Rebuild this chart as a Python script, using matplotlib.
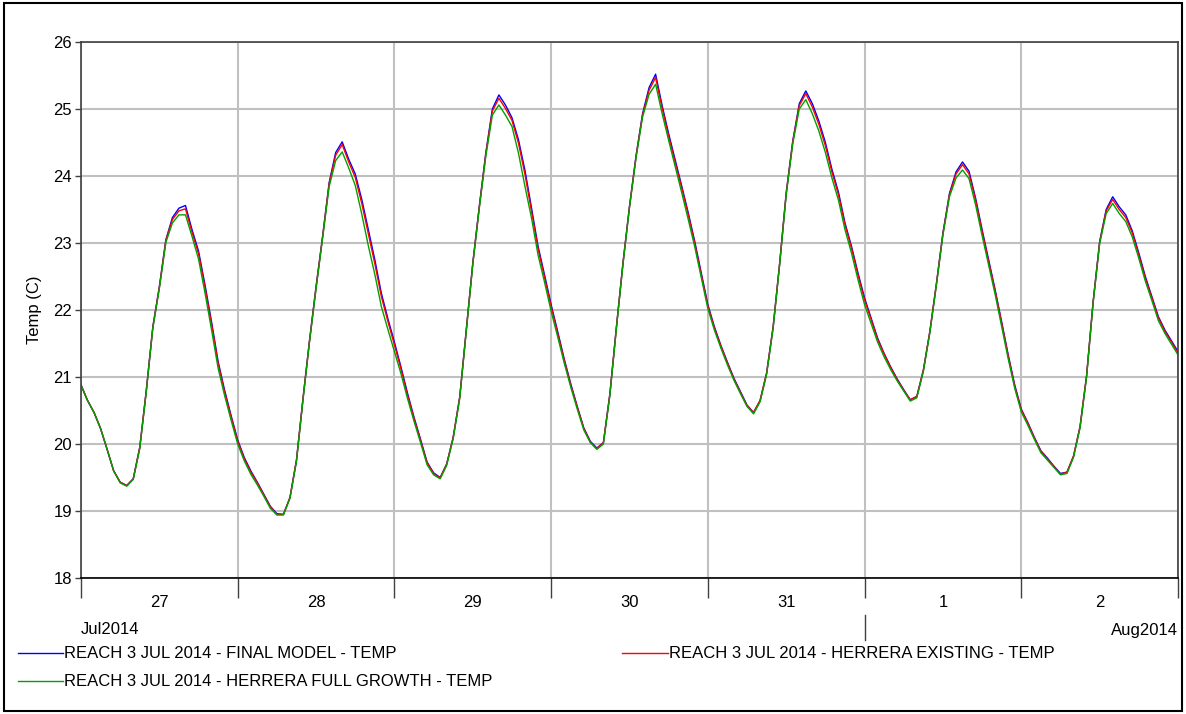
import matplotlib
matplotlib.use('Agg')
import matplotlib.pyplot as plt
from matplotlib.lines import Line2D
from matplotlib.patches import Rectangle
import numpy as np

plt.rcParams['font.family'] = ['Liberation Sans', 'DejaVu Sans']
plt.rcParams['font.size'] = 12

# hourly water temperature, starting 27 Jul 2014 00:00
final_model = [
    20.88, 20.65, 20.47, 20.23, 19.92, 19.6, 19.43, 19.38, 19.48, 19.95, 20.8, 21.75, 22.35, 23.05, 23.38, 23.52, 23.56, 23.2, 22.88, 22.37, 21.82, 21.23, 20.8, 20.42,
    20.06, 19.8, 19.6, 19.43, 19.25, 19.07, 18.96, 18.95, 19.2, 19.76, 20.68, 21.55, 22.35, 23.1, 23.9, 24.35, 24.51, 24.25, 24.03, 23.65, 23.2, 22.75, 22.25, 21.87,
    21.52, 21.15, 20.76, 20.4, 20.07, 19.73, 19.57, 19.5, 19.7, 20.1, 20.7, 21.7, 22.7, 23.55, 24.35, 25.0, 25.21, 25.06, 24.87, 24.54, 24.08, 23.52, 22.95, 22.52,
    22.08, 21.68, 21.27, 20.9, 20.56, 20.24, 20.04, 19.94, 20.02, 20.75, 21.75, 22.7, 23.55, 24.3, 24.93, 25.32, 25.52, 25.05, 24.63, 24.24, 23.85, 23.45, 23.02, 22.55,
    22.08, 21.75, 21.47, 21.22, 20.98, 20.78, 20.58, 20.47, 20.65, 21.06, 21.75, 22.7, 23.75, 24.52, 25.08, 25.27, 25.08, 24.82, 24.5, 24.1, 23.76, 23.3, 22.95, 22.55,
    22.18, 21.88, 21.58, 21.35, 21.15, 20.97, 20.81, 20.66, 20.71, 21.1, 21.68, 22.39, 23.15, 23.74, 24.06, 24.21, 24.07, 23.67, 23.2, 22.75, 22.3, 21.82, 21.33, 20.88,
    20.52, 20.32, 20.1, 19.9, 19.79, 19.67, 19.56, 19.58, 19.82, 20.26, 21.02, 22.12, 23.02, 23.5, 23.69, 23.54, 23.42, 23.18, 22.85, 22.5, 22.2, 21.9, 21.7, 21.54, 21.38,
]
herrera_existing = [
    20.88, 20.65, 20.47, 20.23, 19.92, 19.6, 19.43, 19.38, 19.48, 19.95, 20.8, 21.74, 22.34, 23.04, 23.35, 23.48, 23.51, 23.16, 22.84, 22.33, 21.78, 21.2, 20.77, 20.4,
    20.04, 19.78, 19.58, 19.42, 19.24, 19.06, 18.95, 18.95, 19.2, 19.76, 20.68, 21.54, 22.34, 23.09, 23.88, 24.31, 24.47, 24.21, 23.98, 23.59, 23.14, 22.69, 22.2, 21.83,
    21.48, 21.12, 20.73, 20.38, 20.05, 19.72, 19.56, 19.49, 19.7, 20.1, 20.7, 21.7, 22.69, 23.54, 24.33, 24.97, 25.16, 25.01, 24.83, 24.49, 24.02, 23.47, 22.91, 22.48,
    22.05, 21.65, 21.25, 20.88, 20.55, 20.23, 20.03, 19.93, 20.02, 20.75, 21.75, 22.7, 23.54, 24.29, 24.91, 25.28, 25.47, 25.01, 24.59, 24.2, 23.82, 23.42, 22.99, 22.52,
    22.06, 21.73, 21.46, 21.21, 20.97, 20.77, 20.57, 20.47, 20.65, 21.06, 21.75, 22.7, 23.74, 24.51, 25.05, 25.23, 25.03, 24.77, 24.45, 24.06, 23.72, 23.27, 22.92, 22.52,
    22.15, 21.86, 21.56, 21.34, 21.14, 20.96, 20.8, 20.66, 20.71, 21.1, 21.68, 22.39, 23.14, 23.72, 24.03, 24.17, 24.03, 23.64, 23.17, 22.72, 22.28, 21.8, 21.31, 20.86,
    20.51, 20.31, 20.09, 19.89, 19.78, 19.66, 19.55, 19.58, 19.82, 20.26, 21.02, 22.12, 23.01, 23.48, 23.65, 23.5, 23.38, 23.15, 22.82, 22.47, 22.18, 21.88, 21.68, 21.52, 21.36,
]
herrera_full_growth = [
    20.88, 20.65, 20.47, 20.23, 19.92, 19.6, 19.42, 19.37, 19.47, 19.93, 20.78, 21.73, 22.32, 23.01, 23.3, 23.42, 23.42, 23.1, 22.76, 22.25, 21.7, 21.13, 20.72, 20.35,
    20.0, 19.75, 19.55, 19.39, 19.22, 19.04, 18.94, 18.94, 19.19, 19.74, 20.66, 21.53, 22.32, 23.07, 23.84, 24.23, 24.36, 24.12, 23.86, 23.43, 22.96, 22.53, 22.05, 21.71,
    21.38, 21.05, 20.68, 20.34, 20.02, 19.69, 19.54, 19.48, 19.68, 20.08, 20.68, 21.68, 22.68, 23.52, 24.3, 24.91, 25.06, 24.91, 24.74, 24.34, 23.84, 23.37, 22.82, 22.41,
    21.98, 21.6, 21.21, 20.85, 20.52, 20.21, 20.02, 19.92, 20.0, 20.73, 21.73, 22.68, 23.53, 24.27, 24.88, 25.22, 25.37, 24.93, 24.53, 24.14, 23.75, 23.35, 22.94, 22.48,
    22.02, 21.7, 21.43, 21.18, 20.95, 20.75, 20.56, 20.45, 20.63, 21.04, 21.73, 22.68, 23.72, 24.48, 25.0, 25.14, 24.93, 24.67, 24.35, 23.97, 23.64, 23.2, 22.85, 22.45,
    22.08, 21.8, 21.52, 21.3, 21.11, 20.94, 20.79, 20.64, 20.69, 21.08, 21.66, 22.37, 23.12, 23.69, 23.97, 24.09, 23.96, 23.57, 23.11, 22.67, 22.23, 21.75, 21.27, 20.83,
    20.48, 20.28, 20.07, 19.87, 19.76, 19.65, 19.54, 19.56, 19.8, 20.24, 21.0, 22.1, 22.99, 23.44, 23.59, 23.44, 23.32, 23.09, 22.77, 22.43, 22.14, 21.84, 21.65, 21.49, 21.33,
]
hours = np.arange(len(final_model))

day_labels = ['27', '28', '29', '30', '31', '1', '2']
series_names = ['REACH 3 JUL 2014 - FINAL MODEL - TEMP',
                'REACH 3 JUL 2014 - HERRERA EXISTING - TEMP',
                'REACH 3 JUL 2014 - HERRERA FULL GROWTH - TEMP']

W, H = 1186, 714
fig = plt.figure(figsize=(W / 100, H / 100), dpi=100)
ax = fig.add_axes([81 / W, 1 - 578 / H, (1178 - 81) / W, (578 - 42) / H])

ax.plot(hours, final_model, color='#0000ff', lw=1.0)
ax.plot(hours, herrera_existing, color='#ff0000', lw=1.0)
ax.plot(hours, herrera_full_growth, color='#00a000', lw=1.0)

ax.set_xlim(0, 168)
ax.set_ylim(18, 26)
ax.set_yticks(range(18, 27))
ax.set_xticks(np.arange(0, 169, 24))
ax.set_xticklabels([])
ax.set_xticks(np.arange(12, 168, 24), minor=True)
ax.set_xticklabels(day_labels, minor=True)
ax.tick_params(axis='x', which='major', length=14.4, width=1.0, color='#404040')
ax.tick_params(axis='x', which='minor', length=0, pad=12, labelsize=12)
ax.tick_params(axis='y', length=4.5, width=1.0, color='#404040', pad=2, labelsize=12)

ax.grid(True, which='major', color='#c0c0c0', lw=1.5)
for s in ['left', 'top', 'right']:
    ax.spines[s].set_color('#404040')
    ax.spines[s].set_linewidth(1.2)
ax.spines['bottom'].set_color('black')
ax.spines['bottom'].set_linewidth(1.2)

# month marker below the day axis
ax.plot([120, 120], [-0.069, -0.116], color='#404040', lw=1.0,
        transform=ax.get_xaxis_transform(), clip_on=False)
fig.text(81 / W, 1 - 630 / H, 'Jul2014', ha='left', va='center', fontsize=12)
fig.text(1178 / W, 1 - 630 / H, 'Aug2014', ha='right', va='center', fontsize=12)

fig.text(35 / W, 1 - 310 / H, 'Temp (C)', rotation=90, ha='center', va='center', fontsize=12)

# legend
legend_items = [(18, 63, 653, '#0000ff', series_names[0]),
                (622, 668, 653, '#ff0000', series_names[1]),
                (18, 63, 681, '#00a000', series_names[2])]
for x0, x1, y, c, name in legend_items:
    fig.add_artist(Line2D([x0 / W, x1 / W], [1 - y / H, 1 - y / H], color=c, lw=1.0))
    fig.text((x1 + 1) / W, 1 - y / H, name, ha='left', va='center', fontsize=12)

fig.add_artist(Rectangle((4 / W, 3 / H), (W - 8) / W, (H - 6) / H, fill=False,
                         edgecolor='black', lw=1.5, transform=fig.transFigure))

fig.savefig('out.png', dpi=100)
